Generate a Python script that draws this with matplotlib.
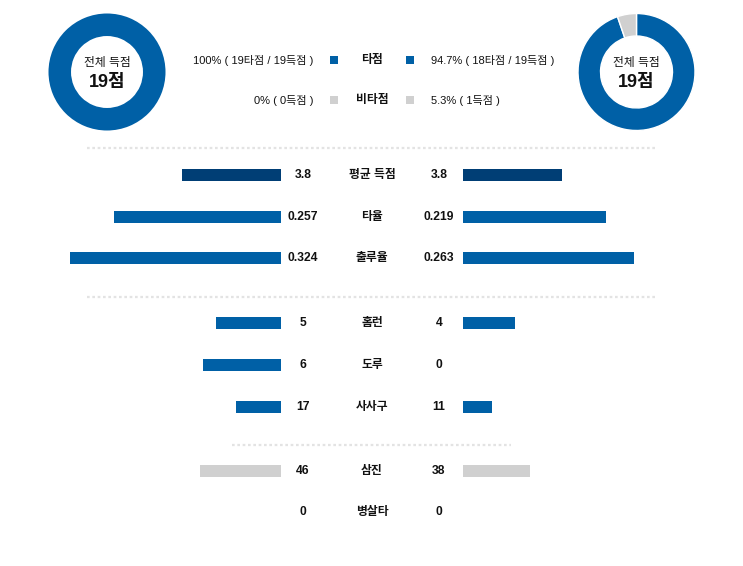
import matplotlib
matplotlib.use('Agg')
import matplotlib.pyplot as plt

plt.rcParams['font.family'] = ['Liberation Sans', 'Noto Sans CJK KR', 'DejaVu Sans']

# score split (home / away)
home_total = 19
away_total = 19
home_rbi = 19
away_rbi = 18

# stat rows
stat_labels = ['평균 득점', '타율', '출루율', '홈런', '도루', '사사구', '삼진', '병살타']
home_values = [3.8, 0.257, 0.324, 5, 6, 17, 46, 0]
away_values = [3.8, 0.219, 0.263, 4, 0, 11, 38, 0]
value_formats = ['{:.1f}', '{:.3f}', '{:.3f}', '{:d}', '{:d}', '{:d}', '{:d}', '{:d}']

BLUE = '#0060A6'
NAVY = '#003E75'
GRAY = '#D0D0D0'
TEXT = '#111111'

W, H = 743, 566
fig = plt.figure(figsize=(W / 100, H / 100), dpi=100)
ax = fig.add_axes([0, 0, 1, 1])
ax.set_xlim(0, W)
ax.set_ylim(H, 0)
ax.axis('off')

# layout (pixels)
row_y = [175, 217, 258, 323, 365, 407, 471, 512]
px_per_unit = [26.0, 651, 651, 13.0, 13.0, 2.65, 1.76, 10]
row_colors = [NAVY, BLUE, BLUE, BLUE, BLUE, BLUE, GRAY, GRAY]
left_edge, right_edge, mid = 281, 463, 372
left_num_x, right_num_x = 303, 439

for lab, hv, av, fmt, y, s, c in zip(stat_labels, home_values, away_values,
                                     value_formats, row_y, px_per_unit, row_colors):
    if hv > 0:
        ax.barh(y, hv * s, left=left_edge - hv * s, height=12, color=c)
    if av > 0:
        ax.barh(y, av * s, left=right_edge, height=12, color=c)
    ax.text(left_num_x, y, fmt.format(hv), ha='center', va='center',
            fontsize=8.7, fontweight='bold', color=TEXT)
    ax.text(right_num_x, y, fmt.format(av), ha='center', va='center',
            fontsize=8.7, fontweight='bold', color=TEXT)
    ax.text(mid, y, lab, ha='center', va='center',
            fontsize=8.5, fontweight='bold', color=TEXT)

# dotted separators
for y, x0, x1 in [(148, 87, 655), (297, 87, 655), (445, 232, 511)]:
    ax.plot([x0, x1], [y, y], color='#E3E3E3', lw=1.6,
            linestyle=(0, (1.2, 1.2)))


def pct(a, b):
    return '{:.1f}'.format(100 * a / b).rstrip('0').rstrip('.')


# legend rows
home_non = home_total - home_rbi
away_non = away_total - away_rbi
ax.text(313, 60, '{}% ( {}타점 / {}득점 )'.format(pct(home_rbi, home_total), home_rbi, home_total),
        ha='right', va='center', fontsize=8.0, color=TEXT)
ax.text(431, 60, '{}% ( {}타점 / {}득점 )'.format(pct(away_rbi, away_total), away_rbi, away_total),
        ha='left', va='center', fontsize=8.0, color=TEXT)
ax.text(313, 100, '{}% ( {}득점 )'.format(pct(home_non, home_total), home_non),
        ha='right', va='center', fontsize=8.0, color=TEXT)
ax.text(431, 100, '{}% ( {}득점 )'.format(pct(away_non, away_total), away_non),
        ha='left', va='center', fontsize=8.0, color=TEXT)
ax.text(mid, 60, '타점', ha='center', va='center', fontsize=8.5, fontweight='bold', color=TEXT)
ax.text(mid, 100, '비타점', ha='center', va='center', fontsize=8.5, fontweight='bold', color=TEXT)
for x in (334, 410):
    ax.scatter([x], [60], marker='s', s=40, color=BLUE, linewidths=0)
    ax.scatter([x], [100], marker='s', s=40, color=GRAY, linewidths=0)


# donuts
def donut(cx, cy, rbi, total):
    r = 58.5
    dax = fig.add_axes([(cx - r) / W, 1 - (cy + r) / H, 2 * r / W, 2 * r / H])
    parts = [(v, c) for v, c in zip([rbi, total - rbi], [BLUE, GRAY]) if v > 0]
    dax.pie([p[0] for p in parts], colors=[p[1] for p in parts], startangle=90,
            counterclock=False, radius=1,
            wedgeprops=dict(width=0.385, edgecolor='white',
                            linewidth=1 if len(parts) > 1 else 0))
    dax.set_xlim(-1, 1)
    dax.set_ylim(-1, 1)
    dax.set_aspect('equal')
    dax.axis('off')
    ax.text(cx, cy - 9, '전체 득점', ha='center', va='center', fontsize=8.5, color=TEXT)
    ax.text(cx, cy + 10, '{}점'.format(total), ha='center', va='center',
            fontsize=13, fontweight='bold', color=TEXT)


donut(107, 72, home_rbi, home_total)
donut(636.5, 72, away_rbi, away_total)

fig.savefig('out.png', dpi=100, facecolor='white')
